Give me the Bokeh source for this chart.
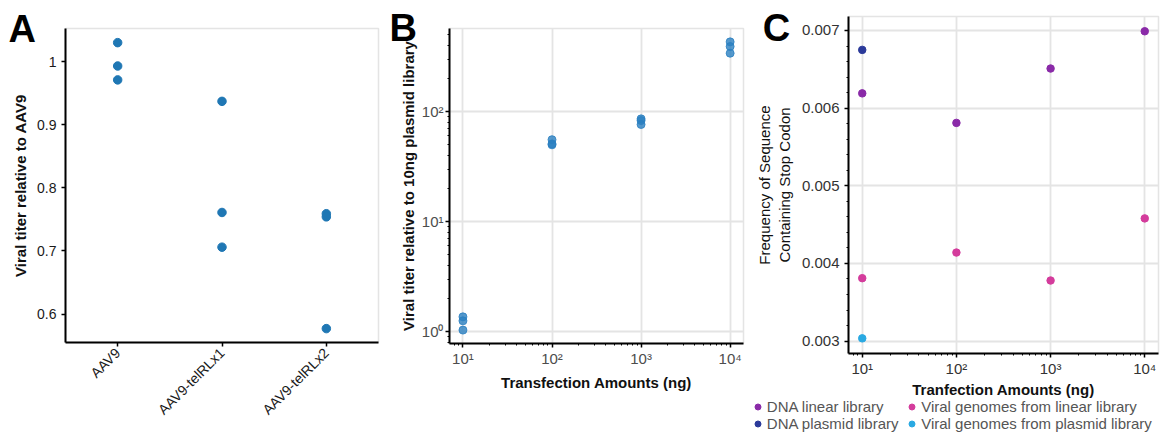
import math
from bokeh.plotting import figure
from bokeh.layouts import row
from bokeh.models import (Label, Legend, LegendItem, CustomJSTickFormatter,
                          SingleIntervalTicker, Range1d, FactorRange)
from bokeh.embed import file_html
from bokeh.resources import INLINE

FONT = "Liberation Sans"

# ---------------- data ----------------
# Panel A: viral titer relative to AAV9
a_groups = ["AAV9", "AAV9-telRLx1", "AAV9-telRLx2"]
a_aav9 = [1.030, 0.993, 0.971]
a_telrlx1 = [0.937, 0.761, 0.706]
a_telrlx2 = [0.759, 0.754, 0.577]

# Panel B: viral titer relative to 10 ng plasmid library
b_amounts = [10, 100, 1000, 10000]
b_titer_10 = [1.36, 1.25, 1.03]
b_titer_100 = [55.5, 50.8, 49.8]
b_titer_1000 = [85.8, 82.8, 76.2]
b_titer_10000 = [430, 390, 339]

# Panel C: frequency of sequences containing a stop codon
c_amounts = [10, 100, 1000, 10000]
c_dna_linear = [0.00619, 0.00581, 0.00651, 0.00699]
c_viral_linear = [0.00381, 0.00414, 0.00378, 0.00458]
c_plasmid_amounts = [10]
c_dna_plasmid = [0.00675]
c_viral_plasmid = [0.003035]

c_labels = ["DNA linear library", "DNA plasmid library",
            "Viral genomes from linear library", "Viral genomes from plasmid library"]
c_colors = ["#8a2aa8", "#2b3a9a", "#d43c9c", "#2aa9e2"]

panel_letters = ["A", "B", "C"]

SUP = CustomJSTickFormatter(code="""
const sup = {"0":"\u2070","1":"\u00b9","2":"\u00b2","3":"\u00b3","4":"\u2074","5":"\u2075","-":"\u207b"};
const e = Math.round(Math.log10(tick));
return "10" + String(e).split("").map(c => sup[c]).join("");
""")


def base_fig(width, left, right, top, bottom, **kw):
    p = figure(width=width, height=432, output_backend="svg", toolbar_location=None,
               title_location=None,
               min_border_left=left, min_border_right=right,
               min_border_top=top, min_border_bottom=bottom, frame_align=False, **kw)
    p.outline_line_color = "#e4e4e4"
    p.outline_line_width = 1.5
    p.background_fill_color = "white"
    p.border_fill_color = "white"
    for ax in (p.xaxis[0], p.yaxis[0]):
        ax.axis_line_color = "black"
        ax.axis_line_width = 2
        ax.major_tick_line_color = "black"
        ax.major_tick_line_width = 1.5
        ax.major_tick_out = 4
        ax.major_tick_in = 0
        ax.minor_tick_line_color = "black"
        ax.minor_tick_line_width = 1
        ax.minor_tick_out = 2
        ax.minor_tick_in = 0
        ax.major_label_text_font = FONT
        ax.major_label_text_font_size = "14px"
        ax.major_label_text_color = "#1a1a1a"
        ax.axis_label_text_font = FONT
        ax.axis_label_text_font_size = "15px"
        ax.axis_label_text_font_style = "bold"
        ax.axis_label_text_color = "#111111"
    return p


def overlay_fig(left, top, width, height):
    f = figure(width=width, height=height, output_backend="svg", toolbar_location=None,
               title_location=None, min_border=0,
               x_axis_location=None, y_axis_location=None,
               x_range=Range1d(0, 1), y_range=Range1d(0, 1), frame_align=False,
               styles={"position": "absolute", "left": f"{left}px", "top": f"{top}px"})
    f.grid.visible = False
    f.outline_line_color = None
    f.background_fill_alpha = 0
    f.border_fill_alpha = 0
    return f


def letter_fig(text, left, width, lx, ly):
    f = overlay_fig(left, 0, width, 56)
    f.add_layout(Label(x=lx, y=ly, x_units="screen", y_units="screen", text=text,
                       text_font=FONT, text_font_size="38px", text_font_style="bold",
                       text_color="black", text_baseline="middle"))
    return f


# ---------------- Panel A ----------------
pa = base_fig(388, 65, 10, 28, 90,
              x_range=FactorRange(*a_groups), y_range=Range1d(0.555, 1.0524))
pa.xgrid.visible = False
pa.ygrid.visible = False
pa.xaxis.major_label_orientation = math.pi / 4
pa.yaxis.ticker = SingleIntervalTicker(interval=0.1, num_minor_ticks=0)
pa.yaxis.formatter = CustomJSTickFormatter(code="return String(Math.round(tick*10)/10);")
pa.yaxis.axis_label = "Viral titer relative to AAV9"
pa.yaxis.axis_label_standoff = 5
pa.yaxis.major_label_standoff = 5
pa.xaxis.major_label_standoff = 4
pa.yaxis.minor_tick_out = 0
pa.xaxis.minor_tick_out = 0
for grp, vals in zip(a_groups, [a_aav9, a_telrlx1, a_telrlx2]):
    pa.scatter([grp] * len(vals), vals, size=8.5, color="#1f77b4", marker="circle")

# ---------------- Panel B ----------------
pb = base_fig(364, 61, 9, 28, 89, x_axis_type="log", y_axis_type="log",
              x_range=Range1d(10 ** 0.849, 10 ** 4.15),
              y_range=Range1d(10 ** -0.109, 10 ** 2.755))
for g in (pb.xgrid[0], pb.ygrid[0]):
    g.grid_line_color = "#e4e4e4"
    g.grid_line_width = 1.8
pb.xaxis.formatter = SUP
pb.yaxis.formatter = SUP
for ax in (pb.xaxis[0], pb.yaxis[0]):
    ax.major_label_text_font_size = "15px"
    ax.major_label_text_color = "#4d4d4d"
pb.yaxis.major_label_standoff = 2
pb.xaxis.major_label_standoff = 2
pb.yaxis.axis_label = "Viral titer relative to 10ng plasmid library"
pb.xaxis.axis_label = "Transfection Amounts (ng)"
pb.yaxis.axis_label_standoff = 2
pb.xaxis.axis_label_standoff = 4
for amt, vals in zip(b_amounts, [b_titer_10, b_titer_100, b_titer_1000, b_titer_10000]):
    pb.scatter([amt] * len(vals), vals, size=8, color="#2a80c0", alpha=0.8,
               marker="circle")

# ---------------- Panel C ----------------
pc = base_fig(409, 91, 3, 16, 79, x_axis_type="log",
              x_range=Range1d(10 ** 0.854, 10 ** 4.146),
              y_range=Range1d(0.00284, 0.00718))
for g in (pc.xgrid[0], pc.ygrid[0]):
    g.grid_line_color = "#e4e4e4"
    g.grid_line_width = 1.8
pc.xaxis.formatter = SUP
pc.yaxis.ticker = SingleIntervalTicker(interval=0.001, num_minor_ticks=5)
for ax in (pc.xaxis[0], pc.yaxis[0]):
    ax.major_label_text_font_size = "15px"
    ax.major_label_text_color = "#333333"
pc.yaxis.major_label_standoff = 5
pc.xaxis.major_label_standoff = 2
pc.xaxis.axis_label = "Tranfection Amounts (ng)"
pc.xaxis.axis_label_standoff = 1
pc.yaxis.axis_label = "Frequency of Sequence\nContaining Stop Codon"
pc.yaxis.axis_label_text_font_style = "normal"
pc.yaxis.axis_label_standoff = 6

c_series = [(c_amounts, c_dna_linear), (c_plasmid_amounts, c_dna_plasmid),
            (c_amounts, c_viral_linear), (c_plasmid_amounts, c_viral_plasmid)]
for (xs, ys), col in zip(c_series, c_colors):
    pc.scatter(xs, ys, size=7.5, color=col, marker="circle")

# ---------------- legend of panel C (below its x axis) ----------------
fl = overlay_fig(745, 398, 416, 34)
# legend proxies: a single NaN point each, so nothing is drawn in the frame
leg_r = [fl.scatter([float("nan")], [float("nan")], size=7.5, color=col, marker="circle")
         for col in c_colors]


def make_legend(idx, x):
    lg = Legend(items=[LegendItem(label=c_labels[i], renderers=[leg_r[i]]) for i in idx],
                location=(x, 0), orientation="vertical",
                padding=0, margin=0, spacing=0, label_standoff=2,
                glyph_width=15, glyph_height=15, label_height=15,
                label_text_font=FONT, label_text_font_size="15px",
                label_text_color="#555555", label_text_baseline="middle",
                border_line_color=None, background_fill_alpha=0)
    fl.add_layout(lg)


make_legend([0, 1], 4.8)
make_legend([2, 3], 159.2)

# ---------------- panel letters ----------------
fa = letter_fig(panel_letters[0], 0, 44, 8, 27.5)
fb = letter_fig(panel_letters[1], 386, 32, 3, 28.5)
fc = letter_fig(panel_letters[2], 758, 36, 4.3, 28.5)

layout = row(pa, pb, pc, fa, fb, fc, fl)
open("out.html", "w").write(file_html(layout, INLINE))
